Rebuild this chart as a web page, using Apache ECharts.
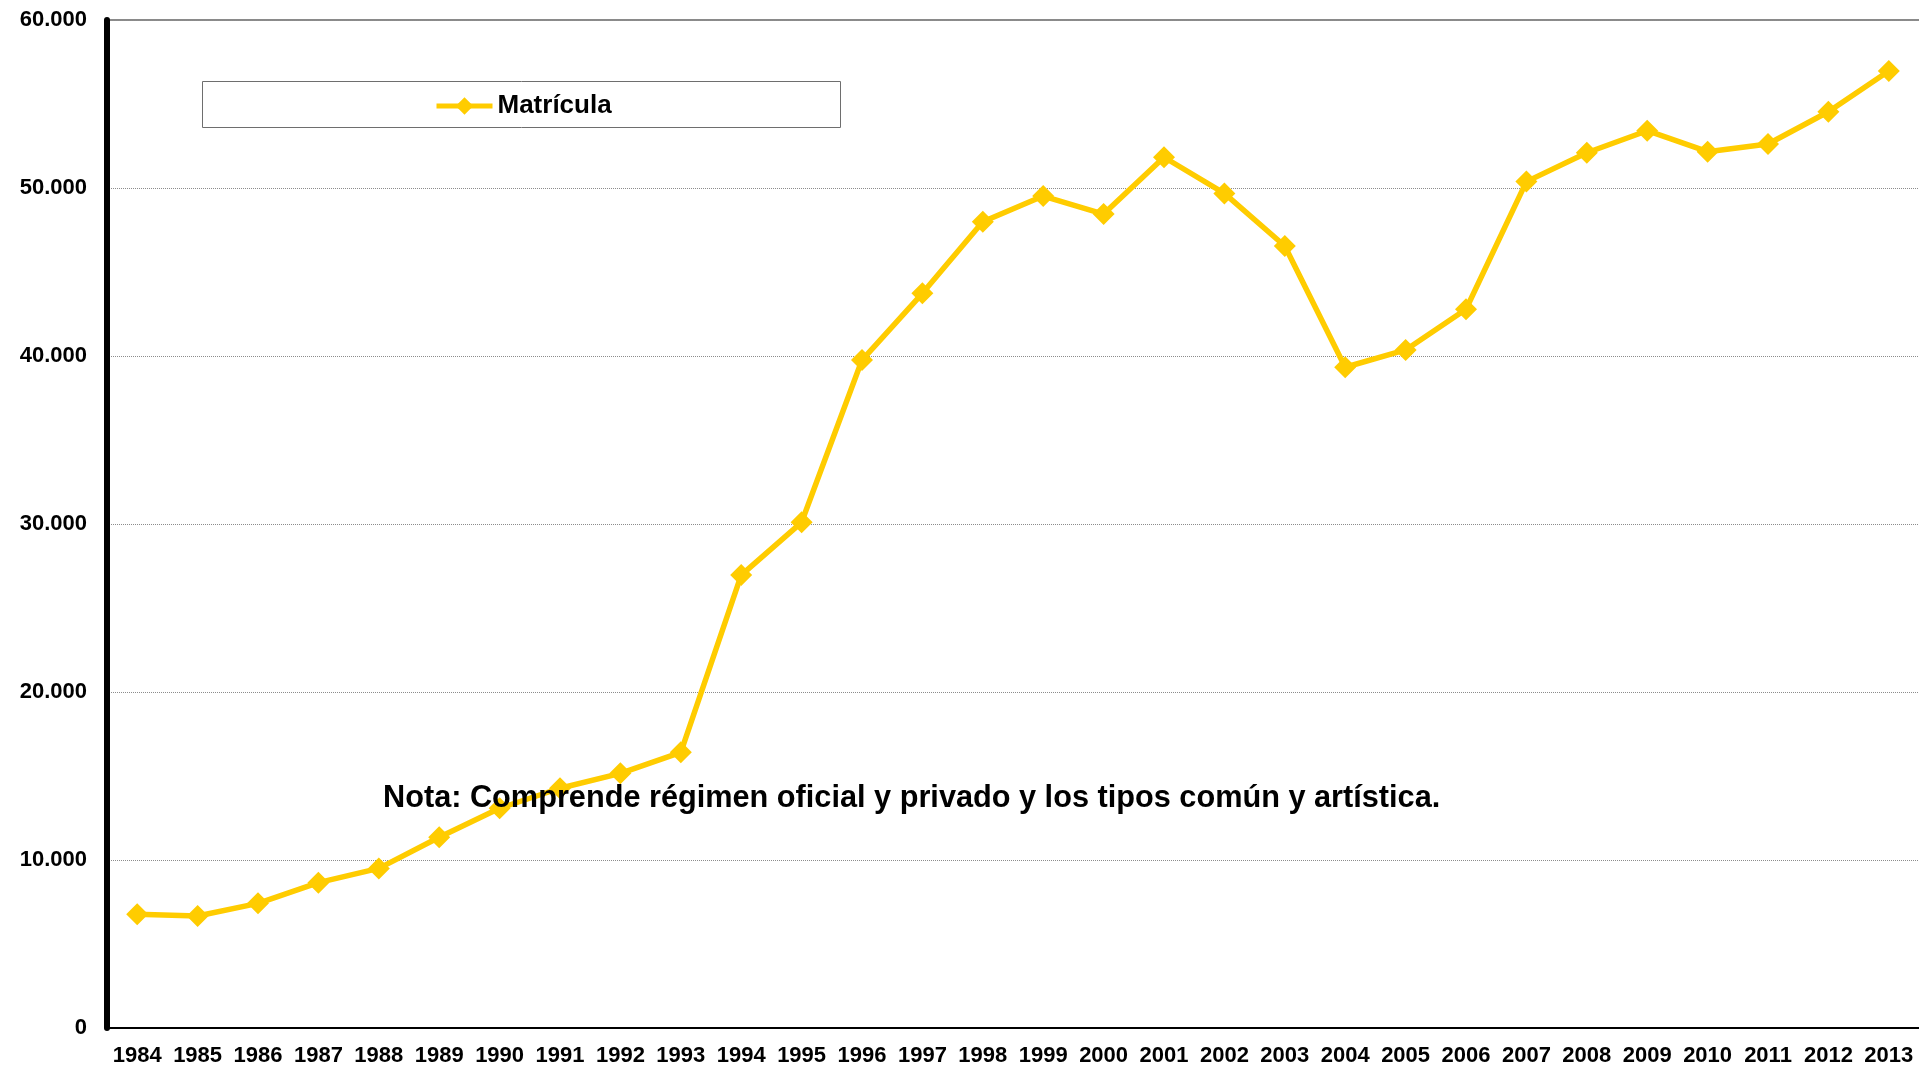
<!DOCTYPE html>
<html>
<head>
<meta charset="utf-8">
<script src="https://cdn.jsdelivr.net/npm/echarts@6/dist/echarts.min.js"></script>
<style>
  html, body { margin: 0; padding: 0; background: #fff; }
  #chart { width: 1919px; height: 1069px; }
</style>
</head>
<body>
<div id="chart"></div>
<script>
const years = ['1984', '1985', '1986', '1987', '1988', '1989', '1990', '1991', '1992', '1993',
  '1994', '1995', '1996', '1997', '1998', '1999', '2000', '2001', '2002', '2003',
  '2004', '2005', '2006', '2007', '2008', '2009', '2010', '2011', '2012', '2013']
// matrícula por año
const matricula = [6770, 6670, 7420, 8650, 9500, 11350, 13080, 14270, 15160, 16410,
  26960, 30100, 39760, 43730, 47990, 49520, 48450, 51830, 49680, 46550,
  39330, 40360, 42780, 50380, 52100, 53410, 52160, 52620, 54540, 56960]
const seriesName = 'Matrícula'
const nota = 'Nota: Comprende régimen oficial y privado y los tipos común y artística.'

const font = '"Liberation Sans", Arial, sans-serif'
const chart = echarts.init(document.getElementById('chart'))

const option = {
  backgroundColor: '#fff',
  animation: false,
  grid: {
    left: 107,
    top: 20,
    width: 1817,
    height: 1008
  },
  legend: {
    data: [seriesName],
    left: 429,
    top: 88,
    itemWidth: 56,
    itemHeight: 22,
    itemGap: 4,
    lineStyle: { width: 5 },
    textStyle: {
      fontFamily: font,
      fontWeight: 'bold',
      fontSize: 26,
      color: '#000'
    }
  },
  xAxis: {
    type: 'category',
    data: years,
    boundaryGap: true,
    axisLine: { lineStyle: { color: '#000', width: 2 } },
    axisTick: { show: false },
    axisLabel: {
      interval: 0,
      margin: 17,
      fontFamily: font,
      fontWeight: 'bold',
      fontSize: 22,
      color: '#000'
    }
  },
  yAxis: {
    type: 'value',
    min: 0,
    max: 60000,
    interval: 10000,
    axisLine: { show: true, lineStyle: { color: '#000', width: 6 } },
    axisTick: { show: false },
    axisLabel: {
      margin: 20,
      fontFamily: font,
      fontWeight: 'bold',
      fontSize: 22,
      color: '#000',
      formatter: v => String(v).replace(/\B(?=(\d{3})+(?!\d))/g, '.')
    },
    splitLine: {
      lineStyle: { color: '#8c8c8c', width: 1, type: [1, 1] }
    }
  },
  graphic: [
    // marco de la leyenda
    {
      type: 'rect',
      shape: { x: 202.5, y: 81.5, width: 638, height: 46 },
      style: { fill: 'none', stroke: '#6e6e6e', lineWidth: 1 },
      z: 0
    },
    // borde superior del área
    {
      type: 'line',
      shape: { x1: 110, y1: 20, x2: 1919, y2: 20 },
      style: { stroke: '#8a8a8a', lineWidth: 2 },
      z: 0
    },
    {
      type: 'text',
      left: 383,
      top: 783,
      z: 100,
      style: {
        text: nota,
        fontFamily: font,
        fontWeight: 'bold',
        fontSize: 30.7,
        fill: '#000'
      }
    }
  ],
  series: [
    {
      name: seriesName,
      type: 'line',
      data: matricula,
      symbol: 'diamond',
      symbolSize: 22,
      lineStyle: { color: '#FFCC00', width: 5.5 },
      itemStyle: { color: '#FFCC00' },
      z: 5
    }
  ]
}
chart.setOption(option)
</script>
</body>
</html>
